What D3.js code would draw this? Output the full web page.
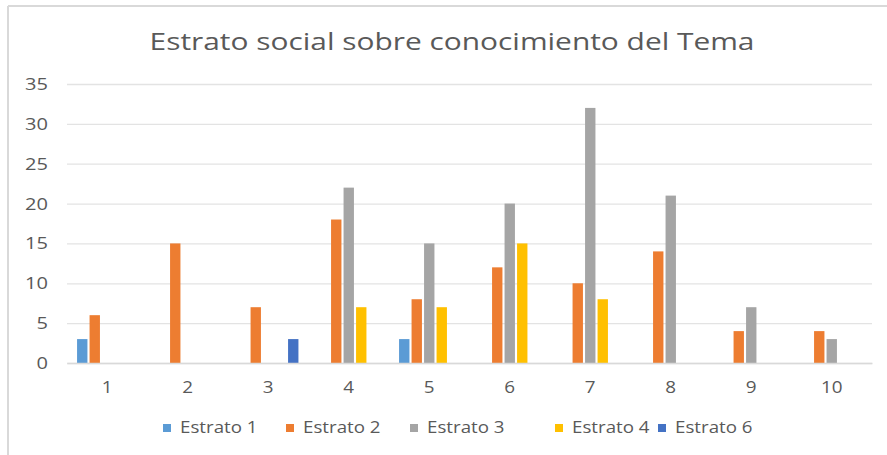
<!DOCTYPE html>
<html>
<head>
<meta charset="utf-8">
<script src="https://cdnjs.cloudflare.com/ajax/libs/d3/7.8.5/d3.min.js"></script>
<style>
  body { margin: 0; background: #fff; }
  svg text { font-family: "Open Sans", "Noto Sans", sans-serif; }
</style>
</head>
<body>
<svg class="chart"></svg>
<script>
var categories = ["1","2","3","4","5","6","7","8","9","10"];
var seriesNames = ["Estrato 1","Estrato 2","Estrato 3","Estrato 4","Estrato 6"];
var seriesColors = ["#5B9BD5","#ED7D31","#A5A5A5","#FFC000","#4472C4"];
// null = no bar in that slot
var estrato1 = [3, null, null, null, 3, null, null, null, null, null];
var estrato2 = [6, 15, 7, 18, 8, 12, 10, 14, 4, 4];
var estrato3 = [null, null, null, 22, 15, 20, 32, 21, 7, 3];
var estrato4 = [null, null, null, 7, 7, 15, 8, null, null, null];
var estrato6 = [null, null, 3, null, null, null, null, null, null, null];
var yTicks = [0,5,10,15,20,25,30,35];

var allSeries = [estrato1, estrato2, estrato3, estrato4, estrato6];
var W = 887, H = 455;
var m = {top: 84, left: 67, right: 15, bottom: 92};
// the source picture is stretched sideways, so text gets a horizontal scale
var titleSX = 1.3, legendSX = 1.17, tickSX = 1.18;

var svg = d3.select("svg.chart").attr("width", W).attr("height", H);

// chart frame (only top and left edges visible in the source)
svg.append("line").attr("x1",8).attr("y1",6).attr("x2",W).attr("y2",6)
    .attr("stroke","#d9d9d9").attr("stroke-width",2);
svg.append("line").attr("x1",8).attr("y1",6).attr("x2",8).attr("y2",H)
    .attr("stroke","#d9d9d9").attr("stroke-width",2);

svg.append("text")
    .attr("transform","translate(452,50) scale("+titleSX+",1)")
    .attr("text-anchor","middle")
    .attr("font-size",23)
    .attr("fill","#595959")
    .text("Estrato social sobre conocimiento del Tema");

var x = d3.scaleBand().domain(categories).range([m.left, W - m.right]).paddingInner(0.25).paddingOuter(0.125);
var xs = d3.scaleBand().domain(seriesNames).range([0, x.bandwidth()]).paddingInner(0.17);
var y = d3.scaleLinear().domain([0,35]).range([H - m.bottom, m.top]);

// gridlines + y labels
var yAxis = d3.axisLeft(y).tickValues(yTicks).tickSize(-(W - m.right - m.left)).tickPadding(0);
var gy = svg.append("g").attr("transform","translate("+m.left+",0)").call(yAxis);
gy.select(".domain").remove();
gy.selectAll(".tick line").attr("stroke","#e3e3e3").attr("stroke-width",1.3);
gy.selectAll(".tick text").attr("font-size",17).attr("fill","#595959")
    .attr("x", -19 / tickSX)
    .attr("transform","scale("+tickSX+",1)")
    .style("font-family","'Open Sans', sans-serif");

// bars
allSeries.forEach(function(vals, si){
    var name = seriesNames[si];
    svg.append("g").selectAll("rect")
        .data(vals.map(function(v,i){ return {c: categories[i], v: v}; }).filter(function(d){ return d.v !== null; }))
        .join("rect")
        .attr("x", function(d){ return x(d.c) + xs(name); })
        .attr("width", xs.bandwidth())
        .attr("y", function(d){ return y(d.v); })
        .attr("height", function(d){ return y(0) - y(d.v); })
        .attr("fill", seriesColors[si]);
});

// x axis
var xAxis = d3.axisBottom(x).tickSize(0).tickPadding(19);
var gx = svg.append("g").attr("transform","translate(0,"+y(0)+")").call(xAxis);
gx.select(".domain").attr("stroke","#d9d9d9").attr("stroke-width",1.3);
gx.selectAll(".tick text").attr("font-size",16).attr("fill","#595959")
    .attr("transform","scale("+tickSX+",1)")
    .style("font-family","'Open Sans', sans-serif");

// legend
var legendX = [180, 303, 427, 572, 675];
var lg = svg.append("g").selectAll("g").data(seriesNames).join("g")
    .attr("transform", function(d,i){ return "translate("+legendX[i]+",433)"; });
lg.append("rect").attr("x",-17).attr("y",-9).attr("width",8).attr("height",8)
    .attr("fill", function(d,i){ return seriesColors[i]; });
lg.append("text").attr("x",0).attr("y",0)
    .attr("transform","scale("+legendSX+",1)")
    .attr("font-size",16).attr("fill","#595959")
    .text(function(d){ return d; });
</script>
</body>
</html>
